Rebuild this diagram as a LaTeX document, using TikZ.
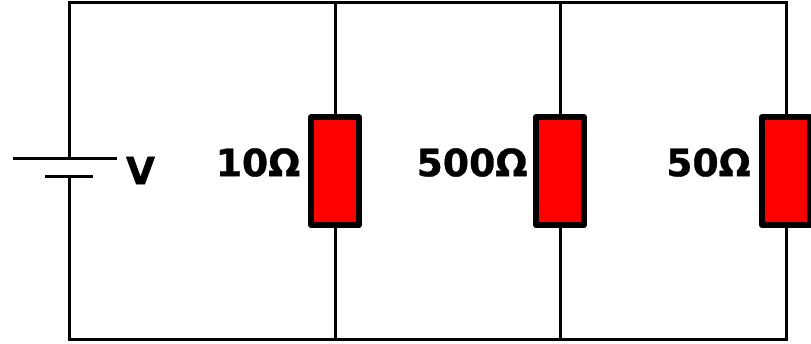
\documentclass[tikz,border=0pt]{standalone}
\usepackage{fontspec}
\setmainfont{DejaVu Sans}[BoldFeatures={FakeBold=0.8}]
\begin{document}
\begin{tikzpicture}[x=1pt,y=-1pt,
  wire/.style={line width=3pt,draw=black},
  res/.style={draw=black,fill=red,line width=6pt,line join=round,minimum width=48pt,minimum height=107.5pt,inner sep=0pt,anchor=center},
  lab/.style={font=\bfseries\fontsize{37.7}{42}\selectfont,inner sep=0pt,text=black}]
\useasboundingbox (0,0) rectangle (811,343);
\coordinate (tl) at (69,2.5);
\coordinate (t1) at (335,2.5);
\coordinate (t2) at (560,2.5);
\coordinate (t3) at (786,2.5);
\coordinate (bl) at (69,339);
\coordinate (b1) at (335,339);
\coordinate (b2) at (560,339);
\coordinate (b3) at (786,339);
\coordinate (bt) at (69,158.5);
\coordinate (bb) at (69,176);
\coordinate (btl) at (13,158.5);
\coordinate (btr) at (117,158.5);
\coordinate (bbl) at (45,176);
\coordinate (bbr) at (93,176);
\node[res] (r1) at (335,171.2) {};
\node[res] (r2) at (560,171.2) {};
\node[res] (r3) at (786,171.2) {};
\draw[wire] (bt) -- (tl) -- (t3) -- (r3.north);
\draw[wire] (r3.south) -- (b3) -- (bl) -- (bb);
\draw[wire] (t1) -- (r1.north) (r1.south) -- (b1);
\draw[wire] (t2) -- (r2.north) (r2.south) -- (b2);
\draw[wire] (btl) -- (btr);
\draw[wire] (bbl) -- (bbr);
\node[lab] (v) at (140.5,170.5) {V};
\node[lab] (l1) at (258,162.5) {10Ω};
\node[lab] (l2) at (472,162.5) {500Ω};
\node[lab] (l3) at (708.5,162.5) {50Ω};
\end{tikzpicture}
\end{document}
